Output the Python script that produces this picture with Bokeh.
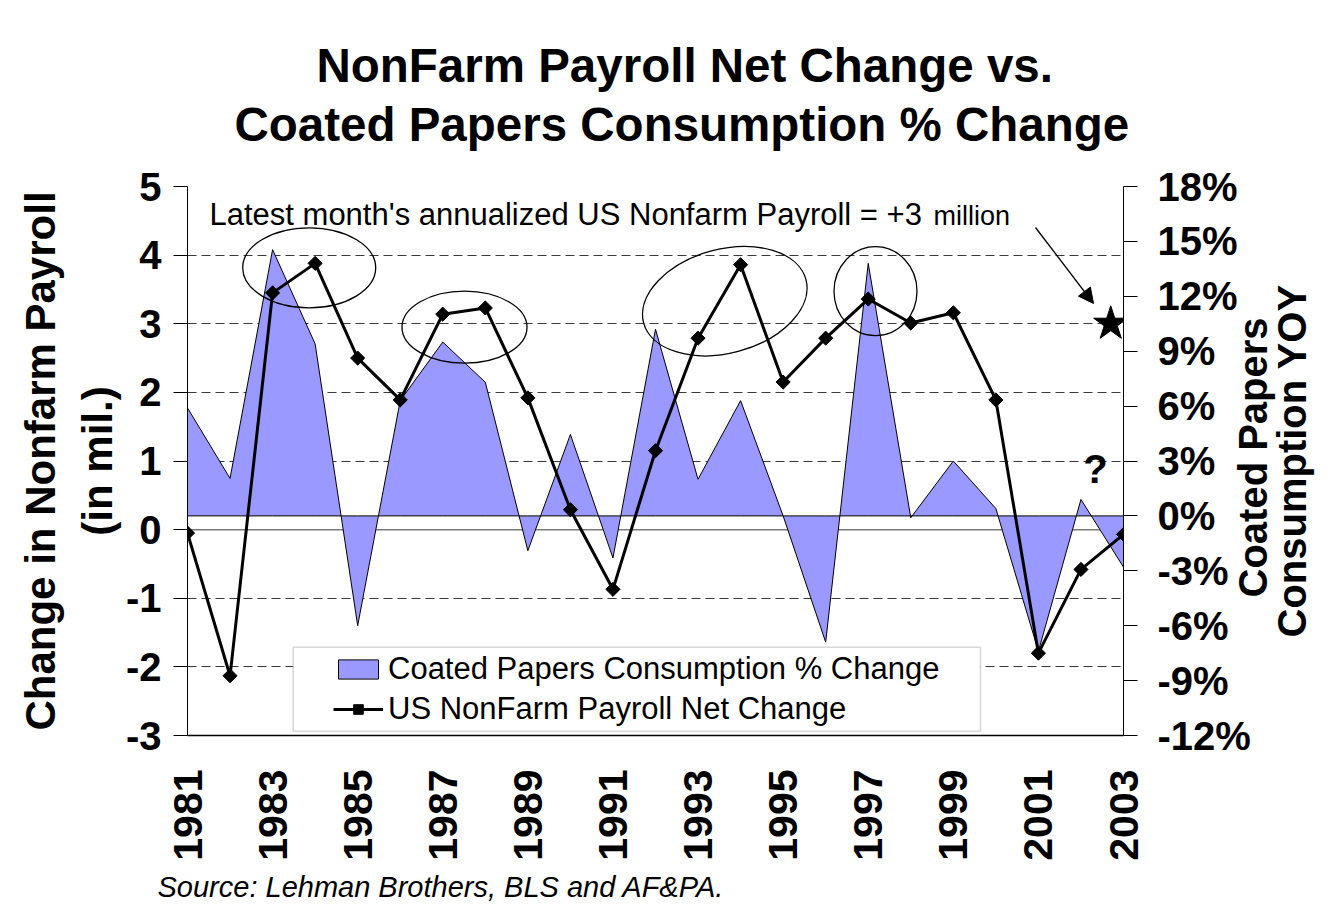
import math
from bokeh.plotting import figure
from bokeh.models import (Range1d, LinearAxis, FixedTicker, Span, Label, Legend, LegendItem,
                          BoxAnnotation, Arrow, NormalHead, Title)
from bokeh.embed import file_html
from bokeh.resources import INLINE

# ---------------- data ----------------
years = list(range(1981, 2004))
payroll = [-0.05, -2.13, 3.45, 3.88, 2.50, 1.89, 3.14, 3.23, 1.92, 0.29, -0.87, 1.15,
           2.79, 3.86, 2.15, 2.79, 3.36, 3.01, 3.16, 1.89, -1.80, -0.58, -0.07]
coated = [5.9, 2.05, 14.55, 9.4, -6.0, 6.3, 9.5, 7.3, -1.9, 4.45, -2.3, 10.2,
          2.0, 6.3, 0.0, -6.9, 13.8, -0.1, 3.0, 0.4, -7.4, 0.9, -2.8]
latest_x = [2002.7]
latest_value = [3.0]

x_ticks = years[::2]
left_ticks = [-3, -2, -1, 0, 1, 2, 3, 4, 5]
left_labels = ["-3", "-2", "-1", "0", "1", "2", "3", "4", "5"]
right_ticks = [-12, -9, -6, -3, 0, 3, 6, 9, 12, 15, 18]
right_labels = ["-12%", "-9%", "-6%", "-3%", "0%", "3%", "6%", "9%", "12%", "15%", "18%"]
grid_ticks = [5, 4, 3, 2, 1, -1, -2]

series_area = "Coated Papers Consumption % Change"
series_line = "US NonFarm Payroll Net Change"
title_1 = "NonFarm Payroll Net Change vs."
title_2 = "Coated Papers Consumption % Change"
left_title_1 = "Change in Nonfarm Payroll"
left_title_2 = "(in mil.)"
right_title_1 = "Coated Papers"
right_title_2 = "Consumption YOY"
source_text = "Source: Lehman Brothers, BLS and AF&PA."

# ---------------- layout ----------------
W, H = 1339, 924
FL, FT, FW, FH = 187, 186, 936, 549
X0, X1, Y0, Y1 = 1981, 2003, -3, 5


def X(ref_px):
    return X0 + (ref_px - FL) * (X1 - X0) / FW


def Y(ref_py):
    return Y1 - (ref_py - FT) * (Y1 - Y0) / FH


FONT = "Liberation Sans"

p = figure(width=W, height=H, x_range=Range1d(X0, X1), y_range=Range1d(Y0, Y1),
           output_backend="svg", toolbar_location=None, title=None,
           min_border_left=FL, min_border_right=W - FL - FW,
           min_border_top=FT, min_border_bottom=H - FT - FH,
           outline_line_color=None, background_fill_color="white",
           border_fill_color="white")
p.extra_y_ranges = {"pct": Range1d(-12, 18), "lab": Range1d(0, FH)}

# x axis
xa = p.xaxis[0]
xa.ticker = FixedTicker(ticks=x_ticks)
xa.major_label_orientation = math.pi / 2
xa.major_label_text_font = FONT
xa.major_label_text_font_style = "bold"
xa.major_label_text_font_size = "41px"
xa.major_label_text_color = "black"
xa.major_tick_out = 0
xa.major_tick_in = 0
xa.minor_tick_out = 0
xa.minor_tick_in = 0
xa.major_label_standoff = 34
xa.axis_line_color = "black"
xa.axis_line_width = 1.3

# left axis
ya = p.yaxis[0]
ya.ticker = FixedTicker(ticks=left_ticks)
ya.major_label_overrides = {t: s for t, s in zip(left_ticks, left_labels)}
ya.major_label_text_font = FONT
ya.major_label_text_font_style = "bold"
ya.major_label_text_font_size = "40px"
ya.major_label_text_color = "black"
ya.major_tick_out = 14
ya.major_tick_in = 0
ya.minor_tick_out = 0
ya.minor_tick_in = 0
ya.major_label_standoff = 12
ya.axis_line_color = "black"
ya.major_tick_line_color = "black"
ya.axis_label = left_title_2
ya.axis_label_text_font = FONT
ya.axis_label_text_font_style = "bold"
ya.axis_label_text_font_size = "42px"
ya.axis_label_text_color = "black"
ya.axis_label_standoff = 2

ya2 = LinearAxis(ticker=FixedTicker(ticks=[]), axis_line_color=None,
                 major_tick_out=0, major_tick_in=0, minor_tick_out=0, minor_tick_in=0,
                 major_label_standoff=0, axis_label=left_title_1,
                 axis_label_text_font=FONT, axis_label_text_font_style="bold",
                 axis_label_text_font_size="42px", axis_label_text_color="black",
                 axis_label_standoff=7)
p.add_layout(ya2, "left")

# right axis (ticks)
ra = LinearAxis(y_range_name="pct", ticker=FixedTicker(ticks=right_ticks),
                major_label_overrides={t: s for t, s in zip(right_ticks, right_labels)},
                major_label_text_font=FONT, major_label_text_font_style="bold",
                major_label_text_font_size="40px", major_label_text_color="black",
                major_tick_out=14, major_tick_in=0, minor_tick_out=0, minor_tick_in=0,
                major_label_standoff=20, axis_line_color="black")
p.add_layout(ra, "right")

# right axis title: two lines reading bottom-to-top, as single-tick label axes
RIGHT_FS = 40


def right_title(text, standoff, center_y_ref):
    length = {right_title_1: 7.002, right_title_2: 8.834}[text] * RIGHT_FS
    tick = int(round(FT + FH - (center_y_ref + length / 2)))
    ax = LinearAxis(y_range_name="lab", ticker=FixedTicker(ticks=[tick]),
                    major_label_overrides={tick: text},
                    major_label_orientation=math.pi / 2, major_label_standoff=standoff,
                    major_tick_out=0, major_tick_in=0, minor_tick_out=0, minor_tick_in=0,
                    major_tick_line_color=None, axis_line_color=None,
                    major_label_text_font=FONT, major_label_text_font_style="bold",
                    major_label_text_font_size=f"{RIGHT_FS}px",
                    major_label_text_color="black")
    p.add_layout(ax, "right")


right_title(right_title_1, -1, 457)
right_title(right_title_2, -8, 460)

# titles (closest to the frame first)
p.add_layout(Title(text=" ", text_font_size="1px", standoff=32), "above")
p.add_layout(Title(text=title_2, align="left", offset=234 - FL, standoff=2,
                   text_font=FONT, text_font_style="bold", text_font_size="47.5px",
                   text_color="black"), "above")
p.add_layout(Title(text=title_1, align="left", offset=316 - FL, standoff=5,
                   text_font=FONT, text_font_style="bold", text_font_size="47.5px",
                   text_color="black"), "above")
p.add_layout(Title(text=source_text, align="left", offset=157 - FL, standoff=15,
                   vertical_align="top", text_font=FONT, text_font_style="italic",
                   text_font_size="29px", text_color="black"), "below")

# grid
p.xgrid.visible = False
g = p.ygrid[0]
g.ticker = FixedTicker(ticks=grid_ticks)
g.grid_line_color = "#3a3a3a"
g.grid_line_dash = "9 5"
g.grid_line_width = 1

p.add_layout(Span(location=0, dimension="width", line_color="#7a7a7a", line_width=1.5,
                  level="underlay"))

# ---------------- series ----------------
area_r = p.patch(x=years + years[::-1], y=coated + [0] * len(coated), y_range_name="pct",
                 fill_color="#9999FF", line_color="black", line_width=1)
line_r = p.line(years, payroll, line_color="black", line_width=3)
pts_r = p.scatter(years, payroll, marker="square", angle=math.pi / 4, size=10,
                  fill_color="black", line_color="black")
p.scatter(latest_x, latest_value, marker="star", size=36, fill_color="black",
          line_color="black")

# ellipses highlighting peaks
p.ellipse(x=[X(308.7), X(464), X(724.3), X(875)],
          y=[Y(267.3), Y(326.7), Y(300.7), Y(290.7)],
          width=[133, 125, 168, 83], height=[80, 72, 104, 89],
          angle=[0, 0, 0.26, 0], width_units="screen", height_units="screen",
          fill_color=None, line_color="black", line_width=1.3)

# arrow to star
p.add_layout(Arrow(end=NormalHead(size=15, fill_color="black", line_color="black"),
                   x_start=X(1035), y_start=Y(227), x_end=X(1093), y_end=Y(303),
                   line_color="black", line_width=1.3))

# legend box + legend
p.add_layout(BoxAnnotation(left=X(292.7), right=X(980), top=Y(646.7), bottom=Y(730.7),
                           fill_color="white", fill_alpha=1, line_color="#808080",
                           line_width=1.6, level="annotation"))
legend = Legend(items=[LegendItem(label=series_area, renderers=[area_r]),
                       LegendItem(label=series_line, renderers=[line_r, pts_r])],
                location=(146, 8), padding=0, spacing=4, margin=0,
                glyph_width=50, glyph_height=24, label_standoff=5,
                label_text_font=FONT, label_text_font_size="31px",
                label_text_color="black", border_line_alpha=0,
                background_fill_alpha=0)
p.add_layout(legend)

# ---------------- texts inside the plot ----------------
def lab(text, x, y, size, style="normal", align="left"):
    p.add_layout(Label(x=x, y=y, text=text, text_font=FONT, text_font_size=size,
                       text_font_style=style, text_align=align, text_baseline="middle",
                       text_color="black"))


lab("Latest month's annualized US Nonfarm Payroll = +3", X(209), Y(213.8), "31px")
lab("million", X(933), Y(215.1), "27px")
lab("?", X(1095), Y(468), "40px", "bold", "center")

open("out.html", "w").write(file_html(p, INLINE))
